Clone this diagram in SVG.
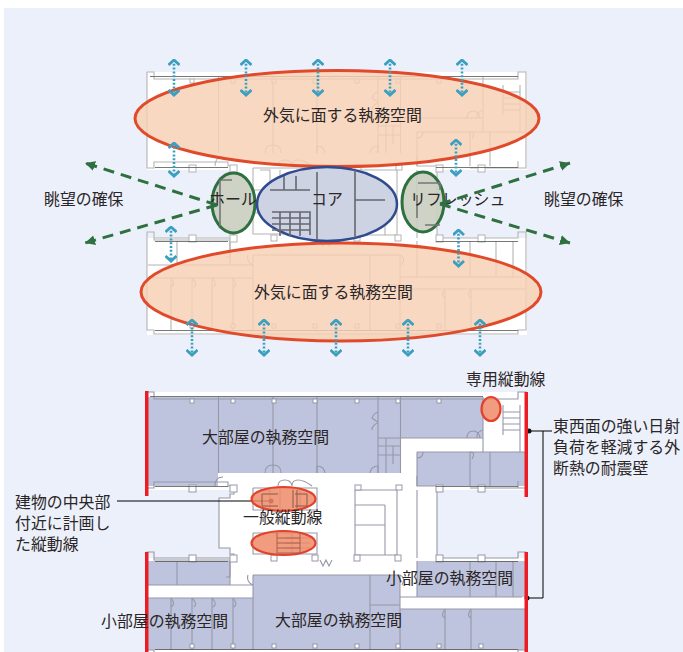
<svg xmlns="http://www.w3.org/2000/svg" xmlns:xlink="http://www.w3.org/1999/xlink" width="683" height="652" viewBox="0 0 683 652">
<style>
text{font-family:"Noto Sans CJK JP","Liberation Sans",sans-serif;font-size:15.9px;fill:#2a2627}
.wall{fill:none;stroke-width:1.100}
.thick{fill:none;stroke-width:1.6}
.sq{fill:#fff;stroke-width:1}
.room{fill:#bfc4de}
.big{fill:#f6d0b2;fill-opacity:.82;stroke:#e04a2a;stroke-width:3}
.shaft{fill:#ef8a68;fill-opacity:.85;stroke:#e2422c;stroke-width:2.2}
.side{fill:#c9cebf;fill-opacity:.9;stroke:#2f7040;stroke-width:3}
.vent{stroke:#3a9fc0;stroke-width:2.600;stroke-dasharray:2 1.800;fill:none;marker-start:url(#chev);marker-end:url(#chev)}
.view{stroke:#2f7040;stroke-width:3;stroke-dasharray:11 7;fill:none;marker-end:url(#gh)}
.lead{stroke:#000;stroke-width:1;fill:none}
.red{fill:#ed1c24}
</style>
<defs>
<marker id="chev" viewBox="0 0 8 12" refX="6.500" refY="6" markerWidth="8" markerHeight="12" markerUnits="userSpaceOnUse" orient="auto-start-reverse"><path d="M1.500 .5L6.500 6L1.500 11.500" fill="none" stroke="#3a9fc0" stroke-width="2.800"/></marker>
<marker id="gh" viewBox="0 0 12 12" refX="10" refY="6" markerWidth="12" markerHeight="12" markerUnits="userSpaceOnUse" orient="auto"><path d="M0 1L10 6L0 11z" fill="#2f7040"/></marker>
<path id="sil" d="M147 392H527V490H437V558H527V655H147V558H230V548H219V498H230V490H147Z"/>
<g id="plan">
<path class="wall" d="M147 392H154V399H518V392H526V488H518V481M147 392V488H154V482H228V486H234V494H230V498H219V548H230V554H234V558H154V552H147V650H154V654H518V650H526V552H518V558H437V486H417V476M417 558V490M526 488H470M154 552V560H230V577H226"/>
<path class="wall" d="M218.500 397V473M273 397V473M317 397V473M378 397V473M400.500 397V473M378 438H401M378 446H401M378 455H400M386 438V473M393 446V464M417 452V486M470 452V486M490 452V486M483 397V438H401M417 452H525M483 438V452M503 405V435M520 405V452M503 412H520M503 418H520M503 424H520M503 430H520"/>
<path class="wall" d="M253 575H400M253 575V650M230 561V585M177 561V585M148 585H253M148 598H253M171 598V650M192 598V650M212 598V650M233 598V650M400 575V650M370 575V605H400M370 605V650M400 597H522M400 609H525M445 609V650M471 609V650M470 561V597M496 561V597M513 561V597M417 561V597"/>
<path class="wall" d="M253 488H317V510H253V488M260 490H270V510M280 490V510M300 490V510M253 533H317V554H253V533M355 490H397V555H355V490M355 505H385M355 525H385M385 505V555M292 533V554M285 533H310M285 538H310M285 543H310M285 548H310"/>
<path class="wall" d="M378 412Q373 414 372 418Q376 421 378 422M378 423Q372 425 372 430M265 473Q265 465 273 465Q281 465 281 473M317 473V466Q324 466 325 473M378 473V466Q371 466 370 473M467 438Q467 431 473 431Q479 431 480 438M215 486Q215 477 223 477M470 452Q476 452 472 459M417 458Q423 458 423 452M483 430Q476 432 477 438M278 486Q278 480 285 480Q291 480 292 486M292 486Q292 480 298 480Q304 480 312 486M320 560L323 566L326 560L329 566L332 560M400 575Q406 578 402 585M253 585Q246 582 248 575M171 598Q176 604 171 607M192 598Q198 604 194 607M212 598Q218 604 213 607M233 598Q238 604 234 607M445 609Q440 616 445 618M471 609Q466 616 471 618"/>
<g class="sq"><rect x="190" y="399" width="4" height="4"/><rect x="231" y="399" width="4" height="4"/><rect x="272" y="399" width="4" height="4"/><rect x="313" y="399" width="4" height="4"/><rect x="355" y="399" width="4" height="4"/><rect x="396" y="399" width="4" height="4"/><rect x="437" y="399" width="4" height="4"/>
<rect x="189" y="485" width="7" height="7"/><rect x="230" y="485" width="7" height="7"/><rect x="355" y="485" width="6" height="5"/><rect x="396" y="485" width="6" height="5"/><rect x="436" y="485" width="7" height="7"/><rect x="478" y="485" width="7" height="7"/>
<rect x="189" y="555" width="7" height="7"/><rect x="230" y="555" width="7" height="7"/><rect x="271" y="555" width="6" height="6"/><rect x="312" y="555" width="6" height="6"/><rect x="354" y="555" width="6" height="6"/><rect x="395" y="555" width="6" height="6"/><rect x="436" y="555" width="7" height="7"/><rect x="478" y="555" width="7" height="7"/>
<rect x="190" y="644" width="4" height="4"/><rect x="231" y="644" width="4" height="4"/><rect x="272" y="644" width="4" height="4"/><rect x="313" y="644" width="4" height="4"/><rect x="355" y="644" width="4" height="4"/><rect x="396" y="644" width="4" height="4"/><rect x="437" y="644" width="4" height="4"/><rect x="479" y="644" width="4" height="4"/></g>
</g>
</defs>

<rect width="683" height="652" fill="#fff"/>
<rect x="4" y="8" width="679" height="644" fill="#ecf0fa"/>

<g id="upper-plan">
<use xlink:href="#sil" href="#sil" y="-320" fill="#fff"/>
<use xlink:href="#plan" href="#plan" y="-320" stroke="#b4b4b4"/>
<path d="M150 76.500H518M155 167.500H228M436 167.500H518M155 241.500H228M436 241.500H518M155 330.500H518" fill="none" stroke="#555" stroke-width=".8"/>
</g>
<g id="lower-plan">
<use xlink:href="#sil" href="#sil" fill="#fff"/>
<path class="room" d="M148 397H483V438H401V473H218V486H148Z"/>
<path class="room" d="M417 452H525V486H417Z"/>
<path class="room" d="M148 561H230V585H148Z"/>
<path class="room" d="M148 598H253V575H400V609H525V650H148Z"/>
<path class="room" d="M417 561H525V597H417Z"/>
<use xlink:href="#plan" href="#plan" stroke="#9698a8"/>
<path d="M150 396.500H483M155 486.500H228M436 486.500H518M155 561.500H228M436 561.500H518M155 649.500H518" fill="none" stroke="#555" stroke-width=".8"/>
</g>

<g id="office-top"><ellipse class="big" cx="337" cy="118.500" rx="202" ry="48"/><text x="263" y="121">外気に面する執務空間</text></g>
<g id="office-bottom"><ellipse class="big" cx="341" cy="292" rx="200" ry="49"/><text x="254" y="298">外気に面する執務空間</text></g>
<g id="hall"><ellipse class="side" cx="233.500" cy="203" rx="21.500" ry="30"/><path class="thick" stroke="#777" d="M220 180V226M221 180H232"/><text x="209" y="205">ホール</text></g>
<g id="core"><ellipse cx="327" cy="204" rx="70" ry="37" fill="#cdd3e2" stroke="#2f4a8f" stroke-width="2.500"/><path class="thick" stroke="#666870" stroke-width="2" d="M317 172V240M355 170V238M355 200H385M270 190H310M284 176V190M296 176V190M272 212H310V235M272 218H310M272 224H310M272 230H310M280 212V236M290 212V236M300 212V236"/><text x="311" y="205">コア</text></g>
<g id="refresh"><ellipse class="side" cx="423" cy="202" rx="21" ry="30"/><path class="thick" stroke="#777" d="M418 183H440V190M417 195V218M425 225H440"/><text x="410" y="205">リフレッシュ</text></g>

<g id="connectors">
<path class="vent" d="M174 60V95"/><path class="vent" d="M246 60V95"/><path class="vent" d="M318 60V95"/><path class="vent" d="M390 60V95"/><path class="vent" d="M462 60V95"/>
<path class="vent" d="M174 143V176"/><path class="vent" d="M456 140V175"/><path class="vent" d="M171 227V261"/><path class="vent" d="M458.500 230V266"/>
<path class="vent" d="M192 320V355"/><path class="vent" d="M264 320V355"/><path class="vent" d="M336 320V355"/><path class="vent" d="M408 320V355"/><path class="vent" d="M480 320V355"/>
<path class="view" d="M217 205L85 163"/><path class="view" d="M217 205L85 243"/><path class="view" d="M440 204L570 163"/><path class="view" d="M440 204L570 243"/>
<path class="lead" d="M117 501H271M529 431H552M543 431V598H527"/>
<circle cx="271" cy="501" r="2.500" fill="#111"/><circle cx="529" cy="431" r="2.500" fill="#111"/><circle cx="527" cy="598" r="2.500" fill="#111"/>
</g>

<g id="red-walls"><rect class="red" x="145" y="391" width="3.500" height="105"/><rect class="red" x="524.500" y="392" width="3.500" height="105"/><rect class="red" x="145" y="552" width="3.500" height="100"/><rect class="red" x="524.500" y="552" width="3.500" height="100"/></g>
<g id="shaft-private"><ellipse class="shaft" cx="491" cy="409" rx="9.500" ry="12"/></g>
<g id="shaft-upper"><ellipse class="shaft" cx="283.500" cy="499" rx="32" ry="12"/><path fill="none" stroke="#8a5a48" d="M278 494H262V506H278M295 494H307V506H295M293 490V508M297 490V508"/></g>
<g id="shaft-lower"><ellipse class="shaft" cx="283.500" cy="543" rx="32" ry="12"/><path fill="none" stroke="#a8604a" d="M277 533V553H300M277 538H300M277 543H300M277 548H300M300 533V553"/></g>

<g id="labels">
<text x="44" y="205">眺望の確保</text><text x="544" y="205">眺望の確保</text>
<text x="466" y="385">専用縦動線</text>
<text x="553" y="432">東西面の強い日射</text><text x="553" y="453">負荷を軽減する外</text><text x="553" y="474">断熱の耐震壁</text>
<text x="202" y="443">大部屋の執務空間</text>
<text x="15" y="508">建物の中央部</text><text x="15" y="529">付近に計画し</text><text x="15" y="550">た縦動線</text>
<text x="243" y="523">一般縦動線</text>
<text x="386" y="584">小部屋の執務空間</text>
<text x="101" y="627">小部屋の執務空間</text>
<text x="275" y="626">大部屋の執務空間</text>
</g>
</svg>
